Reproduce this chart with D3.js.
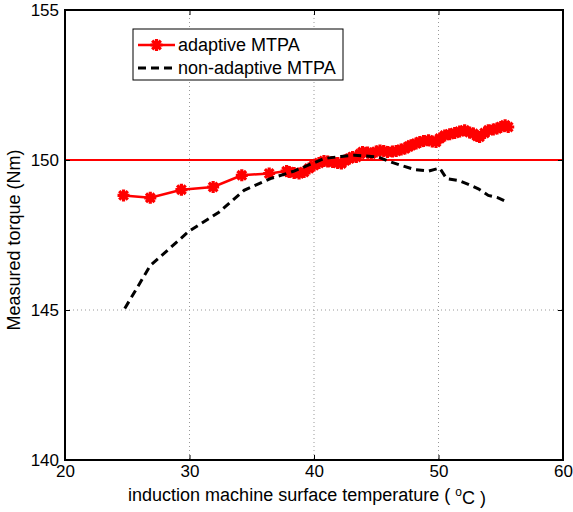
<!DOCTYPE html>
<html>

<head>
    <meta charset="utf-8">
    <script src="https://d3js.org/d3.v7.min.js"></script>
    <style>
        body { margin: 0; background: #fff; }
        svg text { font-family: "Liberation Sans", Arial, sans-serif; fill: #000; }
        .grid line { stroke: #999; stroke-width: 1; stroke-dasharray: 1, 3; }
    </style>
</head>

<body>
    <div id="my_dataviz"></div>
    <script>
        // data
        const xTicks = [20, 30, 40, 50, 60];
        const yTicks = [140, 145, 150, 155];
        const referenceTorque = 150;

        const adaptiveTemp = [24.7, 26.85, 29.35, 31.9, 34.2, 36.4, 37.8, 38.0, 38.4, 38.8, 39.2, 39.6, 40.0, 40.4,
            40.8, 41.1, 41.5, 41.9, 42.2, 42.5, 42.85, 43.1, 43.4, 43.7, 43.9, 44.3, 44.6, 45.0, 45.3, 45.6, 45.9,
            46.3, 46.6, 47.0, 47.3, 47.6, 47.8, 48.2, 48.5, 48.8, 49.2, 49.5, 49.8, 50.1, 50.5, 50.9, 51.3, 51.7,
            52.1, 52.5, 52.8, 53.1, 53.3, 53.7, 54.0, 54.4, 54.7, 55.0, 55.35, 55.6];
        const adaptiveTorque = [148.82, 148.74, 149.01, 149.10, 149.49, 149.55, 149.63, 149.6, 149.57, 149.55, 149.6,
            149.72, 149.82, 149.9, 149.97, 149.95, 149.93, 149.9, 149.88, 149.98, 150.05, 150.1, 150.1, 150.2, 150.27,
            150.25, 150.21, 150.28, 150.32, 150.3, 150.27, 150.28, 150.3, 150.35, 150.38, 150.45, 150.49, 150.55,
            150.6, 150.63, 150.66, 150.62, 150.6, 150.72, 150.82, 150.86, 150.9, 150.95, 150.99, 150.92, 150.88,
            150.8, 150.77, 150.9, 150.99, 151.02, 151.05, 151.1, 151.16, 151.1];

        const nonAdaptiveTemp = [24.8, 26.85, 29.94, 32.36, 34.38, 36.5, 38.4, 40.83, 42.18, 43.25, 45.14, 46.2, 47.0,
            48.1, 49.2, 50.1, 50.65, 51.6, 52.4, 53.2, 54.0, 54.8, 55.6];
        const nonAdaptiveTorque = [145.05, 146.48, 147.62, 148.26, 148.99, 149.38, 149.63, 150.05, 150.12, 150.16,
            150.1, 149.93, 149.82, 149.68, 149.63, 149.73, 149.38, 149.32, 149.19, 149.04, 148.82, 148.74, 148.58];

        const seriesNames = ["adaptive MTPA", "non-adaptive MTPA"];

        // set the dimensions and margins of the graph
        const margin = { top: 10, right: 10, bottom: 52, left: 65 },
            width = 563 - margin.left,
            height = 460 - margin.top;

        const svg = d3.select("#my_dataviz")
            .append("svg")
            .attr("width", 573)
            .attr("height", 512)
            .append("g")
            .attr("transform", `translate(${margin.left}, ${margin.top})`);

        const x = d3.scaleLinear().domain([20, 60]).range([0, width]);
        const y = d3.scaleLinear().domain([140, 155]).range([height, 0]);

        // dotted grid
        const grid = svg.append("g").attr("class", "grid");
        grid.selectAll("line.gx")
            .data(xTicks.slice(1, -1))
            .join("line")
            .attr("x1", d => x(d)).attr("x2", d => x(d))
            .attr("y1", 0).attr("y2", height);
        grid.selectAll("line.gy")
            .data(yTicks.slice(1, -1))
            .join("line")
            .attr("x1", 0).attr("x2", width)
            .attr("y1", d => y(d)).attr("y2", d => y(d));

        // reference line at 150 Nm
        svg.append("line")
            .attr("x1", x(20)).attr("x2", x(60))
            .attr("y1", y(referenceTorque)).attr("y2", y(referenceTorque))
            .attr("stroke", "#ff0000")
            .attr("stroke-width", 2);

        // adaptive (red with asterisks)
        const adData = adaptiveTemp.map((t, i) => [t, adaptiveTorque[i]]);
        svg.append("path")
            .datum(adData)
            .attr("fill", "none")
            .attr("stroke", "#ff0000")
            .attr("stroke-width", 2.5)
            .attr("d", d3.line().x(d => x(d[0])).y(d => y(d[1])));

        const star = "M-6,0L6,0M0,-6L0,6M-4.3,-4.3L4.3,4.3M-4.3,4.3L4.3,-4.3";
        svg.selectAll("path.star")
            .data(adData)
            .join("path")
            .attr("class", "star")
            .attr("transform", d => `translate(${x(d[0])},${y(d[1])})`)
            .attr("d", star)
            .attr("fill", "none")
            .attr("stroke", "#ff0000")
            .attr("stroke-width", 3.2);

        // non-adaptive (dashed black), drawn over the red one
        const nonData = nonAdaptiveTemp.map((t, i) => [t, nonAdaptiveTorque[i]]);
        svg.append("path")
            .datum(nonData)
            .attr("fill", "none")
            .attr("stroke", "#000")
            .attr("stroke-width", 3)
            .attr("stroke-dasharray", "8,5")
            .attr("d", d3.line().x(d => x(d[0])).y(d => y(d[1])));

        // axes, MATLAB style box with inward ticks
        const axisStyle = g => {
            g.select(".domain").remove();
            g.selectAll("text").style("font-size", "17px");
            g.selectAll("line").attr("stroke", "#000").attr("stroke-width", 1);
        };
        svg.append("g")
            .attr("transform", `translate(0, ${height})`)
            .call(d3.axisBottom(x).tickValues(xTicks).tickSizeInner(-5).tickSizeOuter(0).tickPadding(5))
            .call(axisStyle);
        svg.append("g")
            .call(d3.axisTop(x).tickValues(xTicks).tickSizeInner(-5).tickSizeOuter(0).tickFormat(""))
            .call(axisStyle);
        svg.append("g")
            .call(d3.axisLeft(y).tickValues(yTicks).tickSizeInner(-5).tickSizeOuter(0).tickPadding(6))
            .call(axisStyle);
        svg.append("g")
            .attr("transform", `translate(${width}, 0)`)
            .call(d3.axisRight(y).tickValues(yTicks).tickSizeInner(-5).tickSizeOuter(0).tickFormat(""))
            .call(axisStyle);

        svg.append("rect")
            .attr("width", width).attr("height", height)
            .attr("fill", "none")
            .attr("stroke", "#000")
            .attr("stroke-width", 2);

        // legend
        const legend = svg.append("g").attr("transform", "translate(68, 19)");
        legend.append("rect")
            .attr("width", 210).attr("height", 51)
            .attr("fill", "#fff")
            .attr("stroke", "#000")
            .attr("stroke-width", 1);
        legend.append("line")
            .attr("x1", 5).attr("x2", 42).attr("y1", 16).attr("y2", 16)
            .attr("stroke", "#ff0000").attr("stroke-width", 2.5);
        legend.append("path")
            .attr("transform", "translate(23.5,16)")
            .attr("d", star)
            .attr("fill", "none")
            .attr("stroke", "#ff0000")
            .attr("stroke-width", 3.2);
        legend.append("line")
            .attr("x1", 5).attr("x2", 42).attr("y1", 39).attr("y2", 39)
            .attr("stroke", "#000").attr("stroke-width", 3)
            .attr("stroke-dasharray", "8,5");
        legend.selectAll("text")
            .data(seriesNames)
            .join("text")
            .attr("x", 45)
            .attr("y", (d, i) => 16 + i * 23)
            .attr("dy", "0.35em")
            .style("font-size", "18px")
            .text(d => d);

        // axis labels
        const xLabel = svg.append("text")
            .attr("x", width / 2 - 7)
            .attr("y", 491)
            .attr("text-anchor", "middle")
            .style("font-size", "18px");
        xLabel.append("tspan").text("induction machine surface temperature ( ");
        xLabel.append("tspan").attr("dy", "-0.45em").style("font-size", "12px").text("o");
        xLabel.append("tspan").attr("dy", "0.45em").text("C )");

        svg.append("text")
            .attr("transform", `translate(-45, ${height / 2 + 5}) rotate(-90)`)
            .attr("text-anchor", "middle")
            .style("font-size", "18px")
            .text("Measured torque (Nm)");
    </script>
</body>

</html>
